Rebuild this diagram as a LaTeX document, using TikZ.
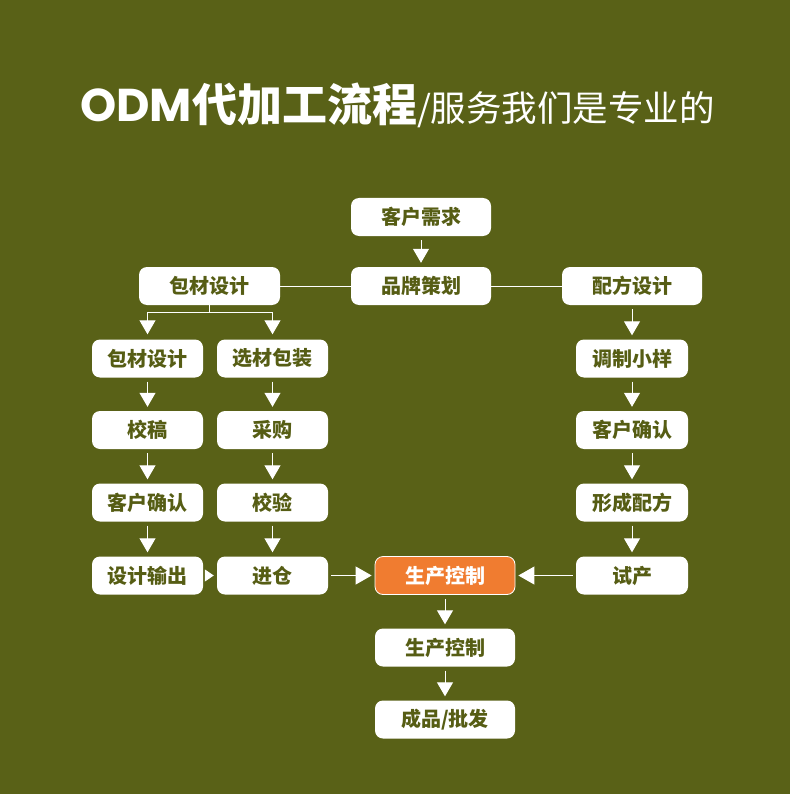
\documentclass[tikz,border=0pt]{standalone}
\usepackage{fontspec}
\setmainfont{Noto Sans CJK SC}
\newfontfamily\latinfont{Poppins}
\usetikzlibrary{arrows.meta, positioning}

\definecolor{bgolive}{RGB}{89,97,23}
\definecolor{boxtext}{RGB}{86,93,20}
\definecolor{hotorange}{RGB}{240,124,48}

\tikzset{
  box/.style={fill=white, rounded corners=8pt, minimum width=140pt, minimum height=38pt,
    inner sep=0pt, text=boxtext, font=\bfseries\fontsize{20}{20}\selectfont},
  smallbox/.style={box, minimum width=112pt},
  hot/.style={box, fill=hotorange, draw=white, line width=0.8pt, text=white},
  link/.style={draw=white, line width=1pt},
  flow/.style={link, -{Triangle[width=16pt,length=14pt]}, shorten <=4pt, shorten >=4pt}
}

\begin{document}
\begin{tikzpicture}[x=1pt, y=-1pt]
        % Base positions
        \def\colL{147.5}  % left column
        \def\colM{272.5}  % second column
        \def\colR{632}    % right column
        \def\colC{445}    % production column

        % Background
        \fill[bgolive] (0,0) rectangle (790,794);

        % Title
        \node[anchor=base west, inner sep=0pt, text=white] (title) at (80,122)
            {{\latinfont\bfseries\fontsize{46}{46}\selectfont ODM}{\bfseries\fontsize{45}{45}\selectfont 代加工流程}{\fontsize{35.5}{35.5}\selectfont /服务我们是专业的}};

        % Top row
        \node[box] (need) at (421,217) {客户需求};
        \node[box] (brand) at (421,286) {品牌策划};
        \node[box, minimum width=141pt] (pack) at (209.5,286) {包材设计};
        \node[box] (formula) at (\colR,286) {配方设计};

        % Packaging branch
        \node[smallbox, minimum width=111pt] (pd) at (\colL,358.5) {包材设计};
        \node[smallbox, minimum width=111pt] (proof) at (\colL,430) {校稿};
        \node[smallbox, minimum width=111pt] (okA) at (\colL,502.5) {客户确认};
        \node[smallbox, minimum width=111pt] (out) at (\colL,575.5) {设计输出};

        \node[smallbox, minimum width=111pt] (sel) at (\colM,358.5) {选材包装};
        \node[smallbox, minimum width=111pt] (buy) at (\colM,430) {采购};
        \node[smallbox, minimum width=111pt] (check) at (\colM,502.5) {校验};
        \node[smallbox, minimum width=111pt] (store) at (\colM,575.5) {进仓};

        % Formula branch
        \node[smallbox] (mix) at (\colR,358.5) {调制小样};
        \node[smallbox] (okB) at (\colR,430) {客户确认};
        \node[smallbox] (form) at (\colR,502.5) {形成配方};
        \node[smallbox] (trial) at (\colR,575.5) {试产};

        % Production
        \node[hot] (hot) at (\colC,575.5) {生产控制};
        \node[box] (ctrl) at (\colC,647.5) {生产控制};
        \node[box] (done) at (\colC,719.5) {成品/批发};

        % Plain links beside the brand box
        \draw[link] (pack) -- (brand);
        \draw[link] (brand) -- (formula);

        % Fork under the packaging box
        \draw[link] (pack.south) -- ++(0,7) coordinate (fork);
        \draw[flow, shorten <=0pt, shorten >=5pt] (fork) -| (pd.north);
        \draw[flow, shorten <=0pt, shorten >=5pt] (fork) -| (sel.north);

        % Vertical chains
        \foreach \a/\b in {need/brand, formula/mix, pd/proof, proof/okA, okA/out,
                           sel/buy, buy/check, check/store, mix/okB, okB/form,
                           form/trial, hot/ctrl, ctrl/done}
            \draw[flow] (\a) -- (\b);

        % Into production
        \draw[link, -{Triangle[width=12pt,length=9pt]}, shorten <=2pt, shorten >=3pt] (out) -- (store);
        \draw[flow, -{Triangle[width=18pt,length=16pt]}, shorten <=3pt, shorten >=3pt] (store) -- (hot);
        \draw[flow, -{Triangle[width=18pt,length=16pt]}, shorten <=3pt, shorten >=3pt] (trial) -- (hot);

    \end{tikzpicture}
\end{document}
